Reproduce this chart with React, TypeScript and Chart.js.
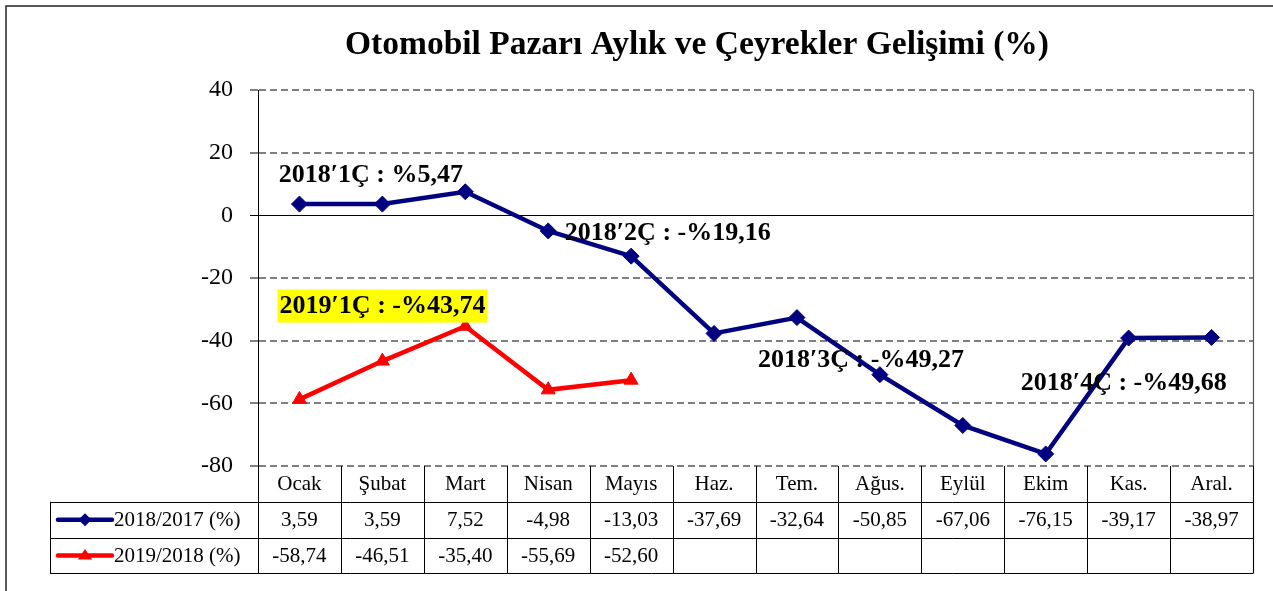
import React, { useEffect, useRef } from "react";
import { Chart, registerables } from "chart.js";

Chart.register(...registerables);

const TITLE = "Otomobil Pazarı Aylık ve Çeyrekler Gelişimi (%)";
const months = ["Ocak", "Şubat", "Mart", "Nisan", "Mayıs", "Haz.", "Tem.", "Ağus.", "Eylül", "Ekim", "Kas.", "Aral."];
const series2018Label = "2018/2017 (%)";
const series2018 = [3.59, 3.59, 7.52, -4.98, -13.03, -37.69, -32.64, -50.85, -67.06, -76.15, -39.17, -38.97];
const series2019Label = "2019/2018 (%)";
const series2019 = [-58.74, -46.51, -35.4, -55.69, -52.6];
const yTicks = [40, 20, 0, -20, -40, -60, -80];

// quarter annotations: text, anchor category index (left edge), y value (centre), highlight
const annTexts = ["2018′1Ç : %5,47", "2018′2Ç : -%19,16", "2019′1Ç : -%43,74", "2018′3Ç : -%49,27", "2018′4Ç : -%49,68"];
const annIdx = [-0.25, 3.2, -0.24, 5.53, 8.7];
const annVal = [13.2, -5.5, -28.8, -46.0, -53.2];
const annHighlight = [false, false, true, false, false];

const NAVY = "#000080";
const RED = "#FF0000";
const FONT = "'Liberation Serif', 'Times New Roman', serif";

const fmt = (v: number) => v.toFixed(2).replace(".", ",");

const decorPlugin = {
  id: "decor",
  beforeDraw(chart: any) {
    const { ctx, width } = chart;
    ctx.save();
    ctx.fillStyle = "#fff";
    ctx.fillRect(0, 0, chart.width, chart.height);
    // outer frame
    ctx.strokeStyle = "#222";
    ctx.lineWidth = 1.5;
    ctx.beginPath();
    ctx.moveTo(6, chart.height + 5);
    ctx.lineTo(6, 6);
    ctx.lineTo(width + 5, 6);
    ctx.stroke();
    // title
    ctx.fillStyle = "#000";
    ctx.font = `bold 33.5px ${FONT}`;
    ctx.textAlign = "center";
    ctx.textBaseline = "alphabetic";
    ctx.fillText(TITLE, 697, 54);
    ctx.restore();
  },
  afterDatasetsDraw(chart: any) {
    const { ctx, chartArea } = chart;
    const xs = chart.scales.x;
    const ys = chart.scales.y;
    const left = chartArea.left;
    const right = chartArea.right;
    const top = chartArea.top;
    const bottom = chartArea.bottom;
    const rowH = 35.8;
    const tableLeft = 50;

    ctx.save();
    // right plot border
    ctx.strokeStyle = "#555";
    ctx.lineWidth = 1.2;
    ctx.beginPath();
    ctx.moveTo(right + 0.5, top);
    ctx.lineTo(right + 0.5, bottom + rowH * 3);
    ctx.stroke();

    // table lines
    ctx.strokeStyle = "#000";
    ctx.lineWidth = 1;
    ctx.beginPath();
    for (let r = 1; r <= 3; r++) {
      const y = Math.round(bottom + rowH * r) + 0.5;
      ctx.moveTo(tableLeft, y);
      ctx.lineTo(right, y);
    }
    for (let i = 0; i <= months.length; i++) {
      const x = Math.round(xs.getPixelForValue(i - 0.5)) + 0.5;
      ctx.moveTo(x, bottom);
      ctx.lineTo(x, bottom + rowH * 3);
    }
    ctx.moveTo(tableLeft + 0.5, bottom + rowH);
    ctx.lineTo(tableLeft + 0.5, bottom + rowH * 3);
    ctx.stroke();

    // table text
    ctx.fillStyle = "#000";
    ctx.font = `21px ${FONT}`;
    ctx.textAlign = "center";
    ctx.textBaseline = "middle";
    months.forEach((m, i) => {
      const x = xs.getPixelForValue(i);
      ctx.fillText(m, x, bottom + rowH * 0.5 + 1);
      if (i < series2018.length) ctx.fillText(fmt(series2018[i]), x, bottom + rowH * 1.5 + 1);
      if (i < series2019.length) ctx.fillText(fmt(series2019[i]), x, bottom + rowH * 2.5 + 1);
    });

    // legend keys
    const keys = [
      { label: series2018Label, color: NAVY, style: "rectRot" },
      { label: series2019Label, color: RED, style: "triangle" },
    ];
    keys.forEach((k, r) => {
      const cy = bottom + rowH * (1.5 + r);
      ctx.strokeStyle = k.color;
      ctx.lineWidth = 4.5;
      ctx.lineCap = "round";
      ctx.beginPath();
      ctx.moveTo(58, cy);
      ctx.lineTo(112, cy);
      ctx.stroke();
      ctx.fillStyle = k.color;
      ctx.lineWidth = 1;
      const r2 = 6.5;
      ctx.beginPath();
      if (k.style === "rectRot") {
        ctx.moveTo(85, cy - r2);
        ctx.lineTo(85 + r2, cy);
        ctx.lineTo(85, cy + r2);
        ctx.lineTo(85 - r2, cy);
      } else {
        ctx.moveTo(85, cy - r2);
        ctx.lineTo(85 + r2 * 1.1, cy + r2 * 0.6);
        ctx.lineTo(85 - r2 * 1.1, cy + r2 * 0.6);
      }
      ctx.closePath();
      ctx.fill();
      ctx.fillStyle = "#000";
      ctx.font = `21px ${FONT}`;
      ctx.textAlign = "left";
      ctx.fillText(k.label, 114, cy + 1);
    });

    // annotations
    ctx.font = `bold 26px ${FONT}`;
    ctx.textAlign = "left";
    ctx.textBaseline = "middle";
    annTexts.forEach((t, i) => {
      const x = xs.getPixelForValue(annIdx[i]);
      const y = ys.getPixelForValue(annVal[i]);
      if (annHighlight[i]) {
        const w = ctx.measureText(t).width;
        ctx.fillStyle = "#FFFF00";
        ctx.fillRect(x - 2, y - 16, w + 4, 33);
      }
      ctx.fillStyle = "#000";
      ctx.fillText(t, x, y + 1);
    });
    ctx.restore();
  },
};

export default function App() {
  const ref = useRef<HTMLCanvasElement | null>(null);
  useEffect(() => {
    if (!ref.current) return;
    Chart.defaults.font.family = FONT;
    const chart = new Chart(ref.current, {
      type: "line",
      data: {
        labels: months,
        datasets: [
          {
            label: series2018Label,
            data: series2018,
            borderColor: NAVY,
            backgroundColor: NAVY,
            borderWidth: 4.5,
            pointStyle: "rectRot",
            pointRadius: 8,
            pointBorderWidth: 1,
            pointBackgroundColor: NAVY,
            pointBorderColor: NAVY,
            tension: 0,
          },
          {
            label: series2019Label,
            data: series2019,
            borderColor: RED,
            backgroundColor: RED,
            borderWidth: 4.5,
            pointStyle: "triangle",
            pointRadius: 8,
            pointBorderWidth: 1,
            pointBackgroundColor: RED,
            pointBorderColor: RED,
            tension: 0,
          },
        ],
      },
      options: {
        responsive: false,
        animation: false,
        devicePixelRatio: 1,
        layout: { padding: { top: 90, bottom: 125, right: 20, left: 0 } },
        plugins: { legend: { display: false }, tooltip: { enabled: false }, title: { display: false } },
        scales: {
          x: { type: "category", offset: true, display: false },
          y: {
            min: -80,
            max: 40,
            afterBuildTicks: (scale: any) => {
              scale.ticks = yTicks.map((v) => ({ value: v }));
            },
            afterFit: (scale: any) => {
              scale.width = 258;
            },
            ticks: { color: "#000", font: { size: 24, family: FONT }, padding: 17 },
            grid: {
              color: (c: any) => (c.tick && c.tick.value === 0 ? "#000" : "#808080"),
              lineWidth: (c: any) => (c.tick && c.tick.value === 0 ? 1 : 2),
              tickLength: 8,
              tickColor: "#000",
              tickWidth: 1,
              tickBorderDash: [],
            },
            border: {
              display: true,
              color: "#000",
              width: 1,
              dash: (c: any) => (c.tick && c.tick.value === 0 ? [] : [7, 4]),
            },
          },
        },
      },
      plugins: [decorPlugin],
    } as any);
    return () => chart.destroy();
  }, []);
  return (
    <div style={{ position: "absolute", left: 0, top: 0, width: 1273, height: 591, background: "#fff" }}>
      <canvas ref={ref} width={1273} height={591} style={{ display: "block" }} />
    </div>
  );
}
